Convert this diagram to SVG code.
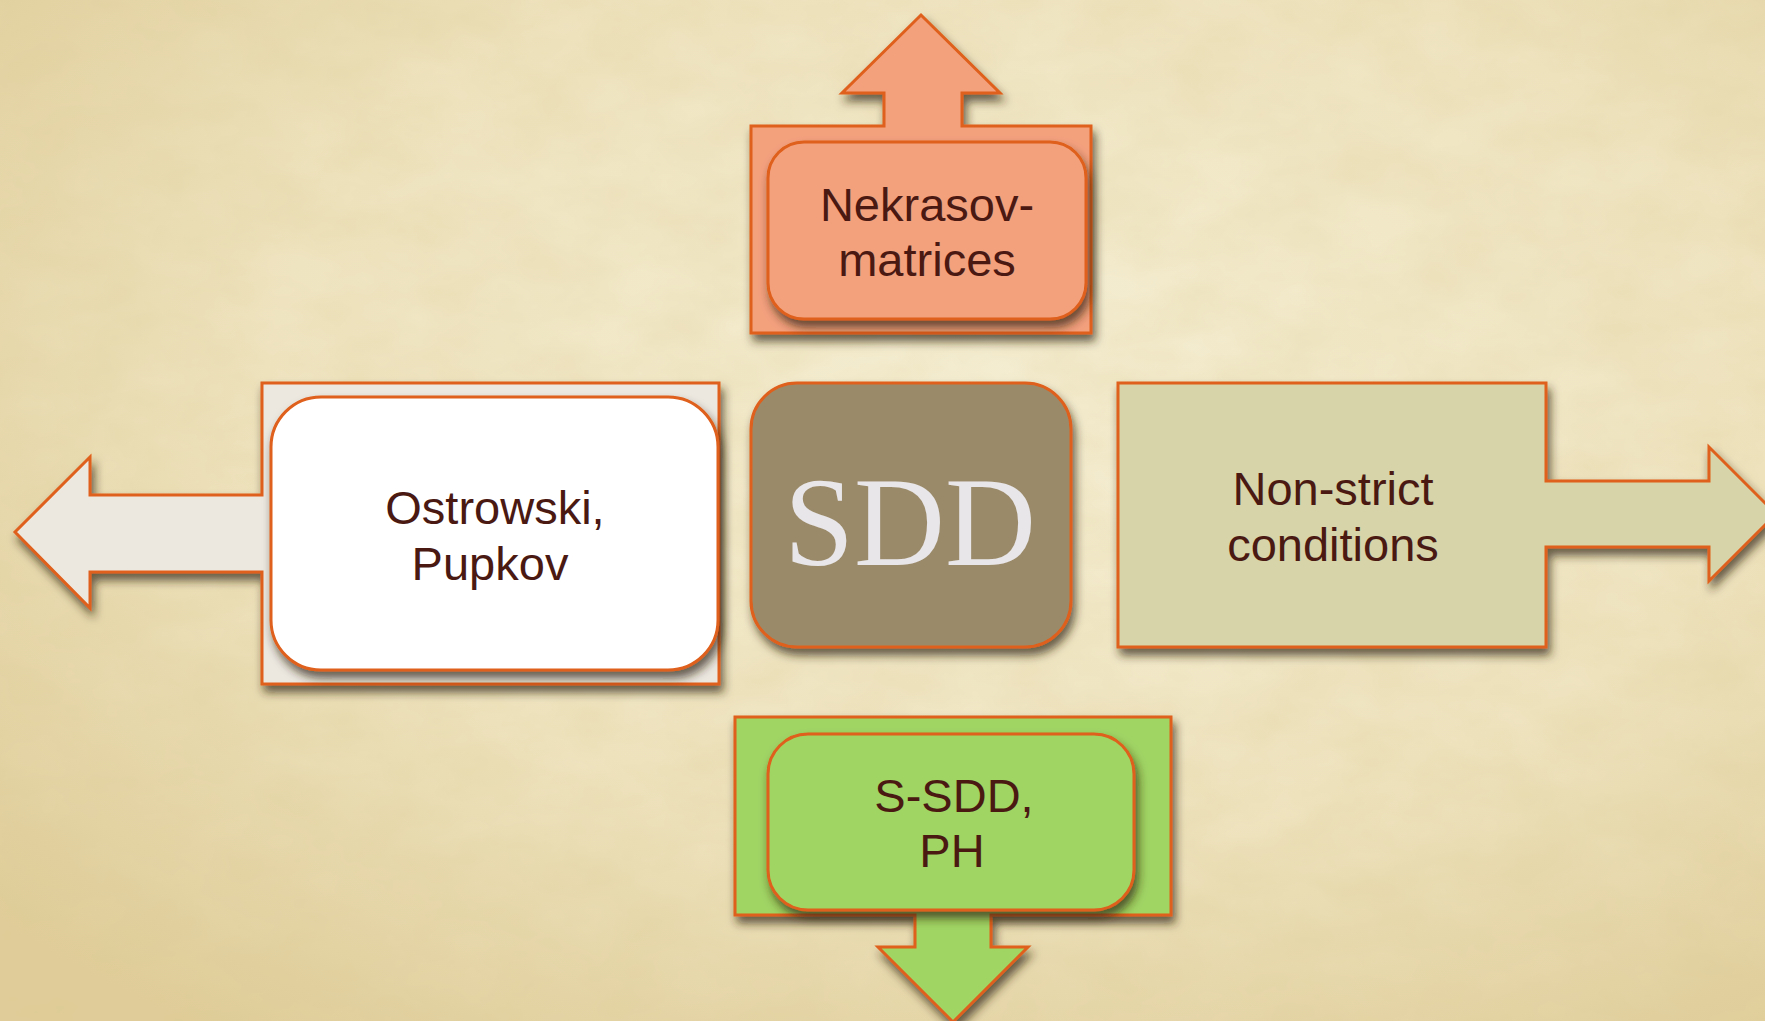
<svg xmlns="http://www.w3.org/2000/svg" width="1765" height="1021" viewBox="0 0 1765 1021">
<defs>
<radialGradient id="bg" cx="0.58" cy="0.38" r="0.78">
<stop offset="0" stop-color="#f5eed3"/>
<stop offset="0.55" stop-color="#efe4c0"/>
<stop offset="1" stop-color="#dfcc98"/>
</radialGradient>
<filter id="tex" x="0" y="0" width="1" height="1">
<feTurbulence type="fractalNoise" baseFrequency="0.012 0.02" numOctaves="4" seed="3" result="n"/>
<feColorMatrix in="n" type="matrix" values="0 0 0 0 0.72  0 0 0 0 0.6  0 0 0 0 0.3  0 0 0 0.4 -0.08"/>
</filter>
<filter id="sh" x="-10%" y="-10%" width="125%" height="130%">
<feDropShadow dx="3" dy="7" stdDeviation="5" flood-color="#2e200a" flood-opacity="0.7"/>
</filter>
<style>
.frame{stroke:#df5f1a;stroke-width:3;stroke-linejoin:miter}
.inner{stroke:#df5f1a;stroke-width:3}
.lbl{font-family:"Liberation Sans",Arial,Helvetica,sans-serif;font-size:47px;fill:#4a1912;text-anchor:middle}
.big{font-family:"Liberation Serif","Times New Roman",serif;font-size:126px;fill:#e8e6e8;text-anchor:middle}
</style>
</defs>
<rect width="1765" height="1021" fill="url(#bg)"/>
<rect width="1765" height="1021" filter="url(#tex)"/>

<g id="connectors">
</g>

<g id="node-nekrasov">
<path class="frame" filter="url(#sh)" fill="#f3a07d" d="M751,333 L751,126 L884,126 L884,93 L842,93 L921,15 L1000,93 L962,93 L962,126 L1091,126 L1091,333 Z"/>
<rect class="inner" filter="url(#sh)" x="768" y="142" width="318" height="177" rx="36" fill="#f3a07d"/>
<text class="lbl" x="927" y="221">Nekrasov-</text>
<text class="lbl" x="927" y="276">matrices</text>
</g>

<g id="node-ostrowski">
<path class="frame" filter="url(#sh)" fill="#ece8e0" d="M262,383 L719,383 L719,684 L262,684 L262,572 L90,572 L90,608 L15,532 L90,457 L90,495 L262,495 Z"/>
<rect class="inner" filter="url(#sh)" x="271" y="397" width="447" height="273" rx="50" fill="#ffffff"/>
<text class="lbl" x="495" y="524">Ostrowski,</text>
<text class="lbl" x="490" y="580">Pupkov</text>
</g>

<g id="node-sdd">
<rect class="inner" filter="url(#sh)" x="751" y="383" width="320" height="264" rx="46" fill="#9b8a6a"/>
<text class="big" x="910" y="565">SDD</text>
</g>

<g id="node-nonstrict">
<path class="frame" filter="url(#sh)" fill="#d6d4a8" d="M1118,383 L1546,383 L1546,481 L1709,481 L1709,447 L1776,514 L1709,581 L1709,547 L1546,547 L1546,647 L1118,647 Z"/>
<text class="lbl" x="1333" y="505">Non-strict</text>
<text class="lbl" x="1333" y="561">conditions</text>
</g>

<g id="node-ssdd">
<path class="frame" filter="url(#sh)" fill="#a0d463" d="M735,717 L1171,717 L1171,915 L991,915 L991,947 L1028,947 L953,1022 L878,947 L915,947 L915,915 L735,915 Z"/>
<rect class="inner" filter="url(#sh)" x="768" y="734" width="366" height="176" rx="40" fill="#a0d463"/>
<text class="lbl" x="954" y="812">S-SDD,</text>
<text class="lbl" x="952" y="867">PH</text>
</g>
</svg>
